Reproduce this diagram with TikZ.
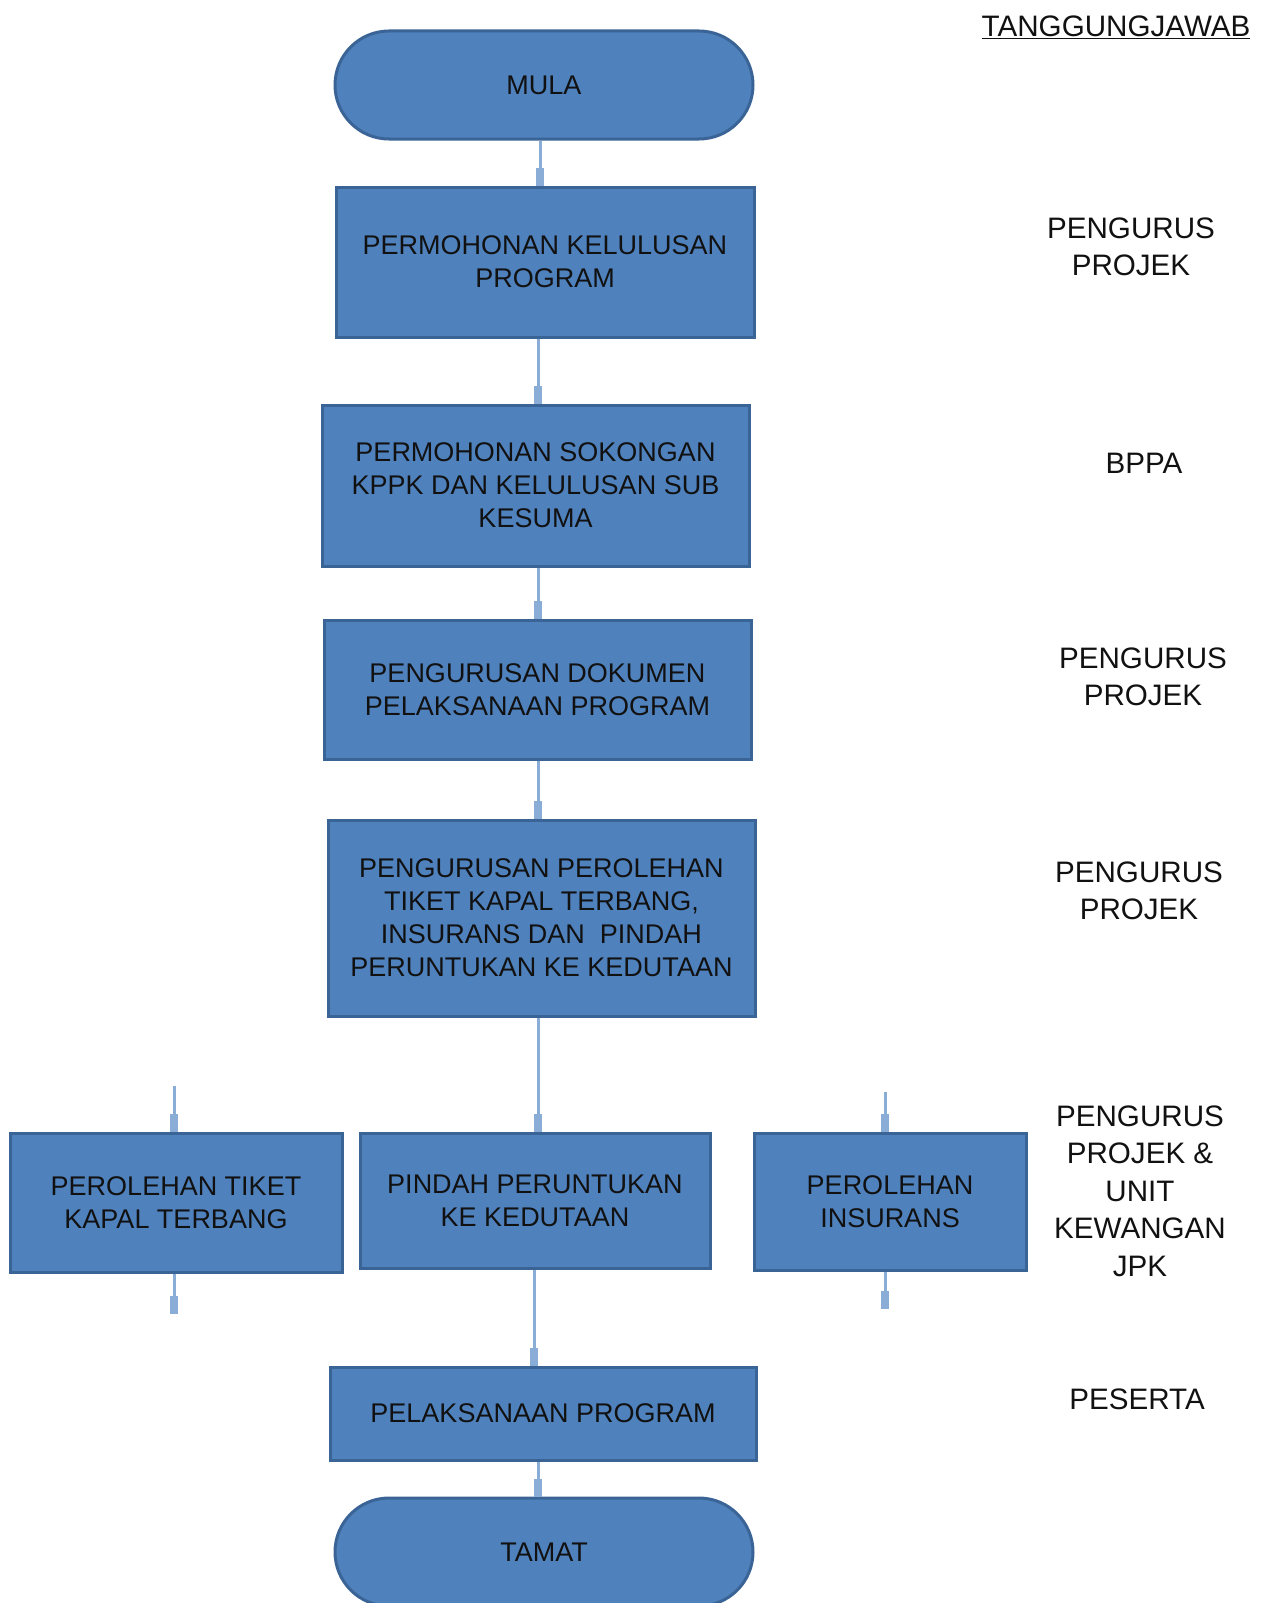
\documentclass[tikz,border=0pt]{standalone}
\usepackage{fontspec}
\setmainfont{Liberation Sans}
\usetikzlibrary{arrows.meta}
\definecolor{boxfill}{HTML}{4F81BD}
\definecolor{boxline}{HTML}{3B6496}
\definecolor{connc}{HTML}{8AADD8}
\definecolor{txtc}{HTML}{111111}
\tikzset{
  flowbox/.style={draw=boxline, fill=boxfill, line width=3pt, inner sep=0pt,
    align=center, text=txtc, font=\fontsize{27}{33}\selectfont},
  termbox/.style={flowbox, rounded corners=54pt},
  conn/.style={draw=connc, line width=3pt, -{Rectangle[length=18pt,width=8pt]}},
  stub/.style={draw=connc, line width=3pt},
  rlabel/.style={align=center, text=txtc, inner sep=0pt, font=\fontsize{29.6}{37.5}\selectfont}
}
\begin{document}
\begin{tikzpicture}[x=1pt,y=-1pt]
\useasboundingbox (0,0) rectangle (1263,1603);
\clip (0,0) rectangle (1263,1603);

\node[termbox, minimum width=418pt, minimum height=108pt] (mula) at (544,85) {MULA};
\node[flowbox, minimum width=418pt, minimum height=150pt] (b1) at (545,262) {PERMOHONAN KELULUSAN\\PROGRAM};
\node[flowbox, minimum width=427pt, minimum height=161pt] (b2) at (535.5,485.5) {PERMOHONAN SOKONGAN\\KPPK DAN KELULUSAN SUB\\KESUMA};
\node[flowbox, minimum width=427pt, minimum height=139pt] (b3) at (537.5,689.5) {PENGURUSAN DOKUMEN\\PELAKSANAAN PROGRAM};
\node[flowbox, minimum width=427pt, minimum height=196pt] (b4) at (541.5,918) {PENGURUSAN PEROLEHAN\\TIKET KAPAL TERBANG,\\INSURANS DAN\ \ PINDAH\\PERUNTUKAN KE KEDUTAAN};
\node[flowbox, minimum width=332pt, minimum height=139pt] (bl) at (176,1202.5) {PEROLEHAN TIKET\\KAPAL TERBANG};
\node[flowbox, minimum width=350pt, minimum height=135pt] (bm) at (535,1200.5) {PINDAH PERUNTUKAN\\KE KEDUTAAN};
\node[flowbox, minimum width=272pt, minimum height=137pt] (br) at (890,1201.5) {PEROLEHAN\\INSURANS};
\node[flowbox, minimum width=426pt, minimum height=93pt] (bp) at (543,1413.5) {PELAKSANAAN PROGRAM};
\node[termbox, minimum width=418pt, minimum height=108pt] (tamat) at (544,1552) {TAMAT};

\draw[conn] ([xshift=-4pt]mula.south) -- ([xshift=-5pt]b1.north);
\draw[conn] ([xshift=-7pt]b1.south) -- ([xshift=2.5pt]b2.north);
\draw[conn] ([xshift=2.5pt]b2.south) -- ([xshift=0.5pt]b3.north);
\draw[conn] ([xshift=0.5pt]b3.south) -- ([xshift=-3.5pt]b4.north);
\draw[conn] ([xshift=-3.5pt]b4.south) -- ([xshift=3pt]bm.north);
\draw[conn] ([xshift=-1pt]bm.south) -- ([xshift=-9pt]bp.north);
\draw[conn] ([xshift=-5pt]bp.south) -- ([xshift=-6pt]tamat.north);

\coordinate (lt) at (174,1086);
\coordinate (lb) at (174,1314);
\coordinate (rt) at (885,1092);
\coordinate (rb) at (885,1309);
\draw[conn] (lt) -- ([xshift=-2pt]bl.north);
\draw[conn] ([xshift=-2pt]bl.south) -- (lb);
\draw[conn] (rt) -- ([xshift=-5pt]br.north);
\draw[conn] ([xshift=-5pt]br.south) -- (rb);

\node[rlabel] (head) at (1116,27) {\underline{TANGGUNGJAWAB}};
\node[rlabel] (l1) at (1131,247) {PENGURUS\\PROJEK};
\node[rlabel] (l2) at (1144,463) {BPPA};
\node[rlabel] (l3) at (1143,677) {PENGURUS\\PROJEK};
\node[rlabel] (l4) at (1139,891) {PENGURUS\\PROJEK};
\node[rlabel] (l5) at (1140,1191) {PENGURUS\\PROJEK \&\\UNIT\\KEWANGAN\\JPK};
\node[rlabel] (l6) at (1137,1399) {PESERTA};
\end{tikzpicture}
\end{document}
